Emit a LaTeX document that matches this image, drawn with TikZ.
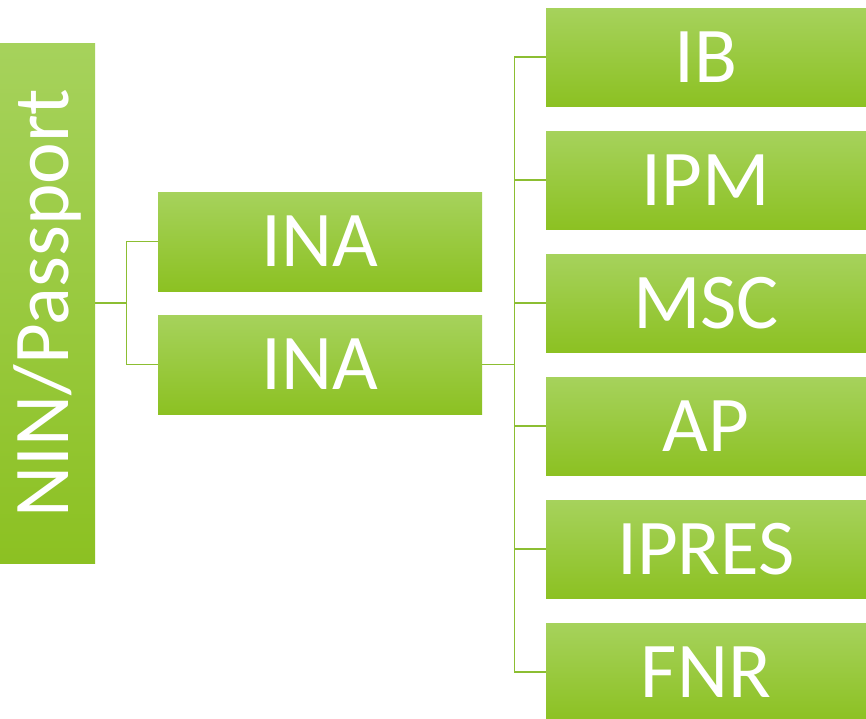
\documentclass[tikz,border=0pt]{standalone}
\usepackage{fontspec}
\setmainfont{Carlito}
\definecolor{gtop}{RGB}{166,210,92}
\definecolor{gmid}{RGB}{156,208,48}
\definecolor{gbot}{RGB}{140,193,34}
\definecolor{gline}{RGB}{140,190,50}
\begin{document}
\begin{tikzpicture}[x=1pt,y=-1pt,
  gbox/.style={rectangle, inner sep=0pt, draw=none, top color=gtop, middle color=gmid, bottom color=gbot, text=white, font=\fontsize{79}{79}\selectfont},
  link/.style={draw=gline, line width=1.4pt}]
\useasboundingbox (0,0) rectangle (866,718);
\node[gbox, minimum width=95pt, minimum height=520pt] (nin) at (47.5,303) {};
\node[rotate=90, text=white, font=\fontsize{79}{79}\selectfont, inner sep=0pt] (nint) at (nin.center) {NIN/Passport};
\node[gbox, minimum width=324pt, minimum height=99pt] (ina1) at (320,241.5) {INA};
\node[gbox, minimum width=324pt, minimum height=99pt] (ina2) at (320,364.5) {INA};
\node[gbox, minimum width=320pt, minimum height=98pt] (ib) at (706,57) {IB};
\node[gbox, minimum width=320pt, minimum height=98pt] (ipm) at (706,180) {IPM};
\node[gbox, minimum width=320pt, minimum height=98pt] (msc) at (706,303) {MSC};
\node[gbox, minimum width=320pt, minimum height=98pt] (ap) at (706,426) {AP};
\node[gbox, minimum width=320pt, minimum height=98pt] (ipres) at (706,549) {IPRES};
\node[gbox, minimum width=320pt, minimum height=98pt] (fnr) at (706,672) {FNR};
\draw[link] (nin.east) -- ++(31,0) |- (ina1.west);
\draw[link] (nin.east) -- ++(31,0) |- (ina2.west);
\foreach \t in {ib,ipm,msc,ap,ipres,fnr}{
  \draw[link] (ina2.east) -- ++(32,0) |- (\t.west);
}
\end{tikzpicture}
\end{document}
